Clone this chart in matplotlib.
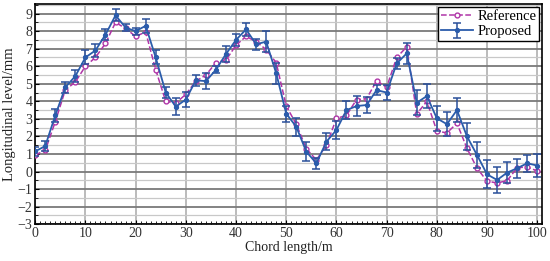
import matplotlib
matplotlib.use('Agg')
import matplotlib.pyplot as plt
import numpy as np
from matplotlib.ticker import MultipleLocator

# chord positions (m)
chord = list(range(0, 101, 2))

# reference curve (mm)
reference = [0.95, 1.2, 2.84, 4.65, 5.1, 6.0, 6.5, 7.3, 8.5, 8.15,
             7.7, 7.95, 5.8, 4.0, 3.9, 4.4, 5.15, 5.5, 6.2, 6.35,
             7.2, 7.7, 7.4, 6.95, 6.2, 3.73, 2.7, 1.3, 0.66, 1.5,
             3.03, 3.2, 4.1, 4.15, 5.17, 4.8, 6.5, 7.1, 3.28, 4.0,
             2.31, 2.2, 2.75, 1.32, 0.19, -0.55, -0.65, -0.52, 0.22, 0.26,
             0.03]

# proposed method (mm)
proposed = [1.15, 1.45, 3.2, 4.8, 5.44, 6.5, 6.9, 7.8, 8.9, 8.2,
            8.0, 8.3, 6.5, 4.5, 3.7, 4.1, 5.2, 5.15, 5.8, 6.7,
            7.5, 8.1, 7.25, 7.4, 5.6, 3.3, 2.55, 1.13, 0.47, 1.7,
            2.37, 3.5, 3.73, 3.79, 4.64, 4.5, 6.16, 6.73, 3.92, 4.3,
            3.03, 2.7, 3.5, 2.0, 0.94, -0.16, -0.48, -0.06, 0.19, 0.47,
            0.34]

# error bar half-width (mm)
err = [0.25, 0.3, 0.35, 0.3, 0.35, 0.4, 0.35, 0.3, 0.35, 0.2,
       0.2, 0.4, 0.4, 0.3, 0.5, 0.45, 0.3, 0.45, 0.2, 0.45,
       0.35, 0.35, 0.3, 0.6, 0.6, 0.45, 0.5, 0.55, 0.3, 0.5,
       0.5, 0.5, 0.55, 0.45, 0.3, 0.45, 0.3, 0.6, 0.7, 0.7,
       0.7, 0.7, 0.7, 0.75, 0.75, 0.8, 0.75, 0.6, 0.55, 0.5,
       0.65]

plt.rcParams['font.family'] = ['Liberation Serif', 'DejaVu Serif']
plt.rcParams['mathtext.fontset'] = 'stix'

fig = plt.figure(figsize=(5.5, 2.61), dpi=100)
ax = fig.add_axes([0.064, 0.141, 0.922, 0.844])

blue = '#2b5cab'
mag = '#b035a8'

ax.plot(chord, reference, linestyle='--', color=mag, lw=1.1, marker='o',
        markersize=3.5, markerfacecolor='white', markeredgecolor=mag,
        markeredgewidth=1.0, label='Reference', zorder=4)
ax.errorbar(chord, proposed, yerr=err, color=blue, lw=1.3, marker='o',
            markersize=2.8, ecolor='#2a4f9a', elinewidth=1.1, capsize=3,
            capthick=1.1, label='Proposed', zorder=5)

ax.set_xlim(0, 101)
ax.set_ylim(-3, 9.55)
ax.xaxis.set_major_locator(MultipleLocator(10))
ax.xaxis.set_minor_locator(MultipleLocator(1))
ax.yaxis.set_major_locator(MultipleLocator(1))
ax.yaxis.set_minor_locator(MultipleLocator(0.5))

ax.grid(axis='y', which='major', color='#7a7a7a', lw=1.3, zorder=0)
ax.grid(axis='y', which='minor', color='#c8c8c8', lw=0.9, zorder=0)
ax.grid(axis='x', which='major', color='#a8a8a8', lw=1.1, zorder=0)

ax.tick_params(which='both', direction='in', labelsize=10, pad=2,
               labelcolor='#333333')
ax.tick_params(which='major', length=3)
ax.tick_params(which='minor', length=2)
for s in ax.spines.values():
    s.set_linewidth(1.2)
    s.set_color('black')

ax.set_xlabel('Chord length/m', fontsize=10, labelpad=1, color='#222222')
ax.set_ylabel('Longitudinal level/mm', fontsize=10.5, labelpad=1,
              color='#222222')

leg = ax.legend(loc='upper right', fontsize=10.5, fancybox=False,
                edgecolor='black', framealpha=1, borderpad=0.2,
                handlelength=2.2, handletextpad=0.3, borderaxespad=0.2,
                labelspacing=0.15)
leg.get_frame().set_linewidth(1.0)

fig.savefig('out.png', dpi=100)
